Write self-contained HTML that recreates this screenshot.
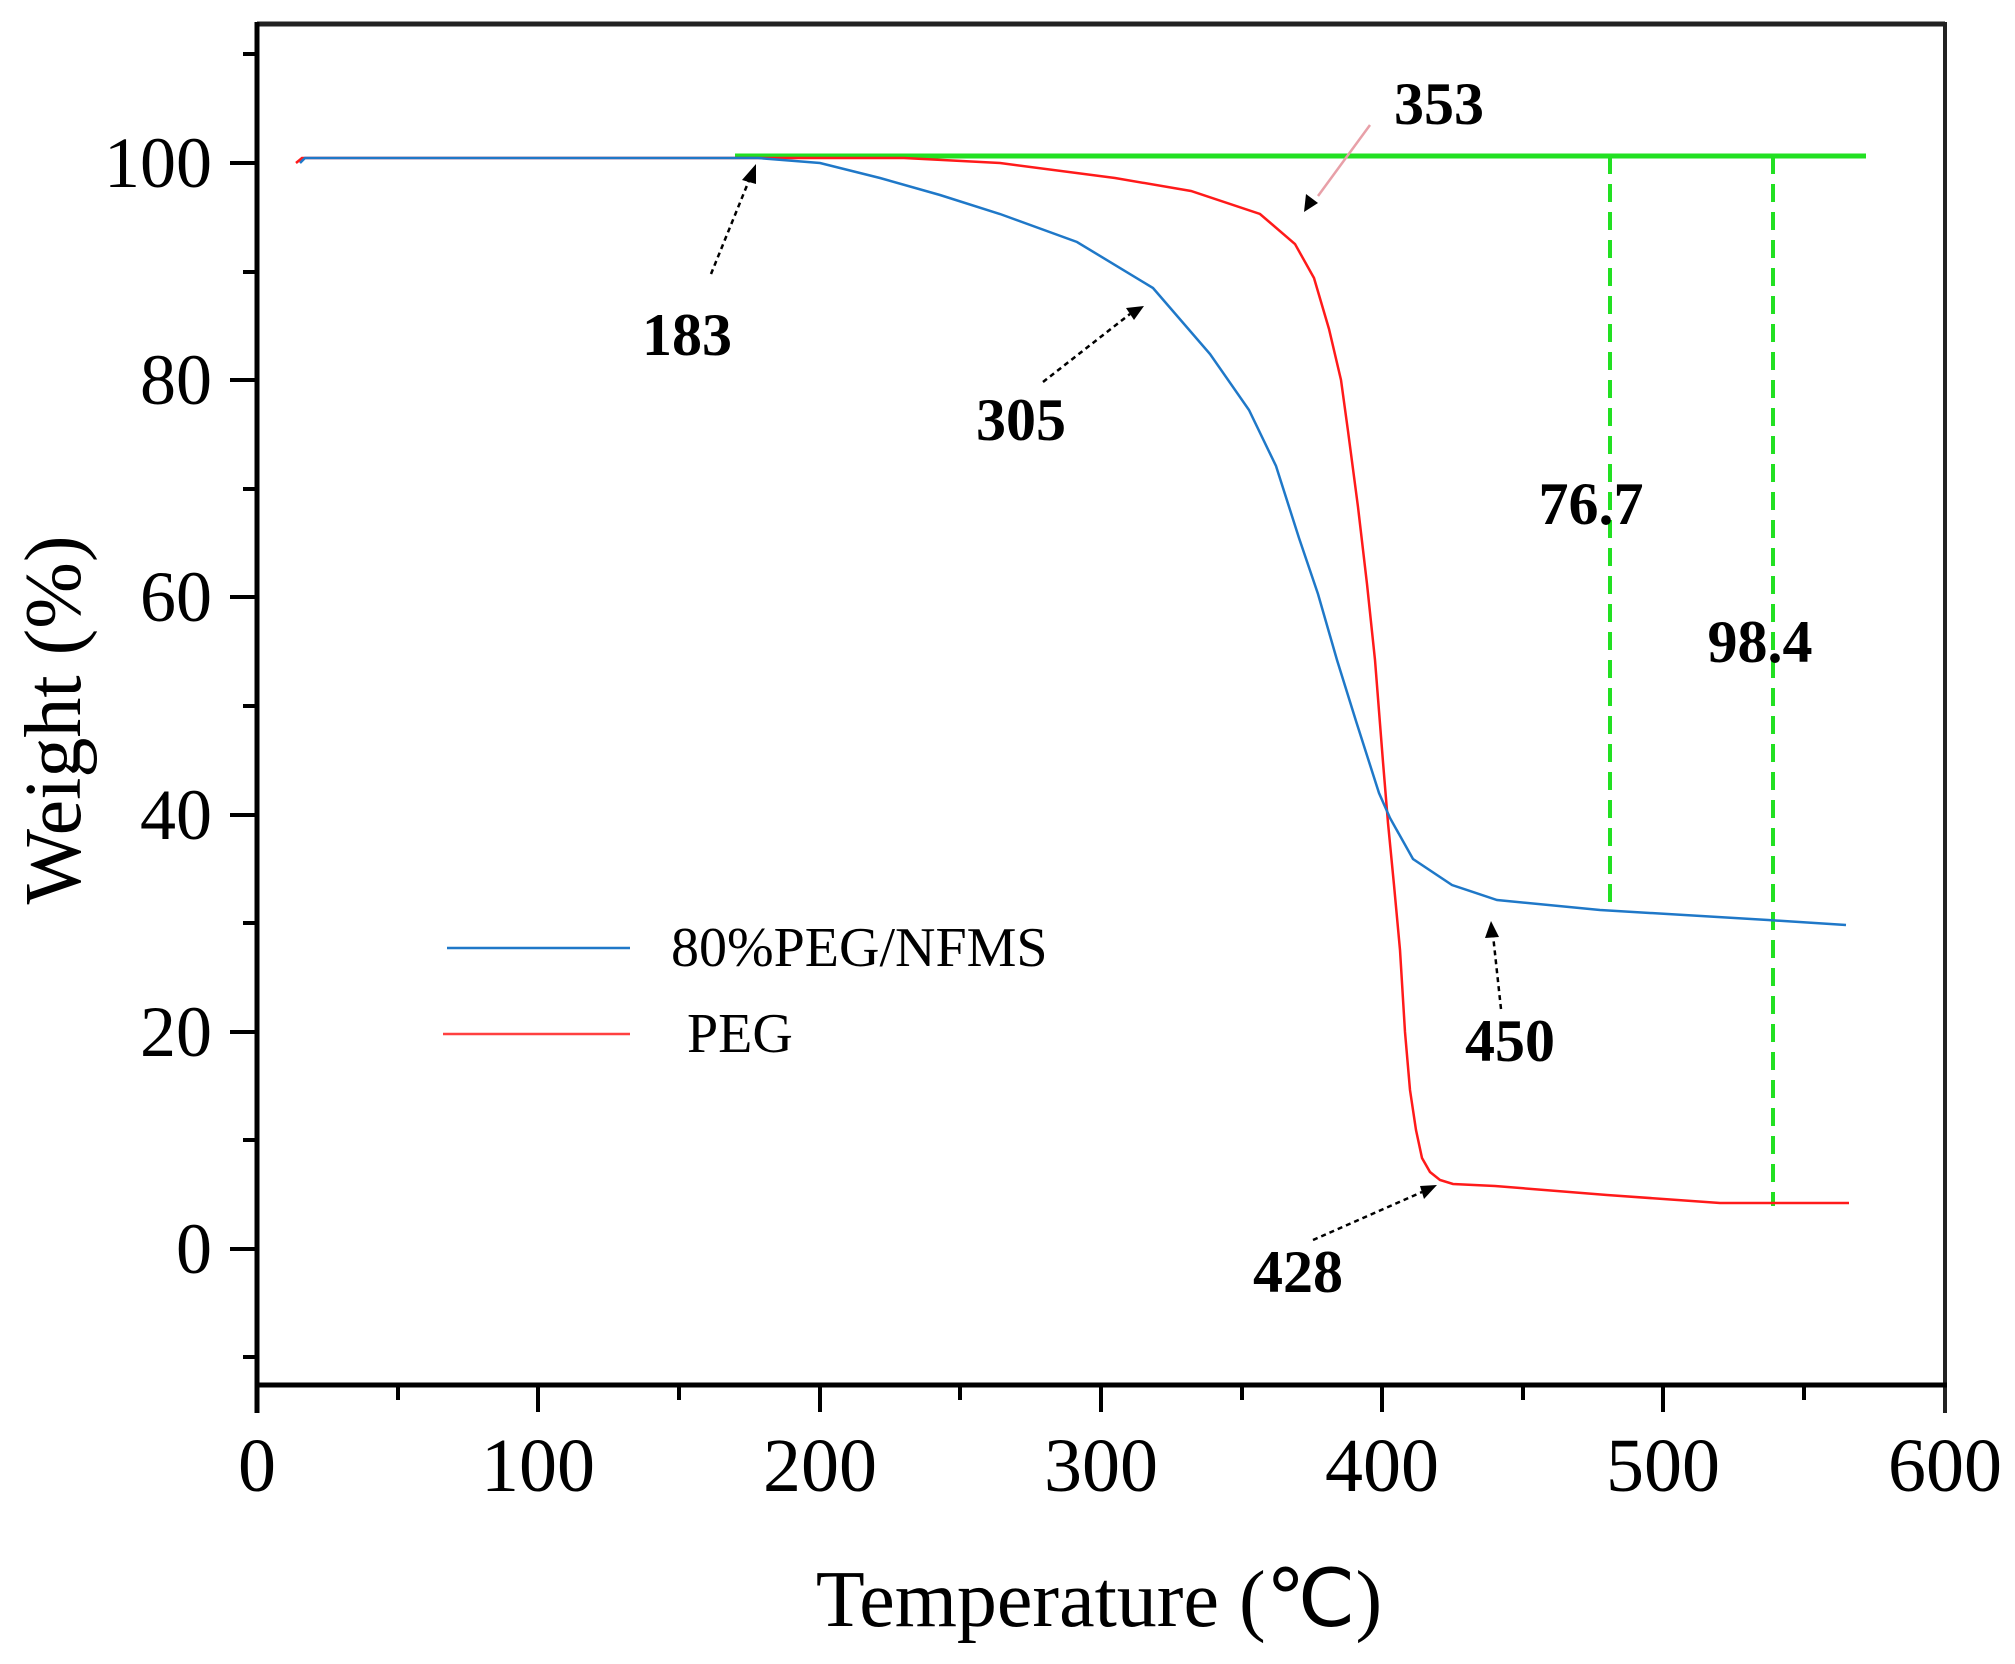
<!DOCTYPE html>
<html><head><meta charset="utf-8"><style>
html,body{margin:0;padding:0;background:#fff;}
svg{display:block;}
text{font-family:"Liberation Serif",serif;fill:#000;}
</style></head><body>
<svg width="2015" height="1664" viewBox="0 0 2015 1664" xmlns="http://www.w3.org/2000/svg">
<rect width="2015" height="1664" fill="#fff"/>
<line x1="257" y1="24" x2="1945" y2="24" stroke="#222" stroke-width="5"/>
<line x1="1945" y1="22" x2="1945" y2="1413" stroke="#222" stroke-width="4"/>
<line x1="257" y1="22" x2="257" y2="1413" stroke="#000" stroke-width="5"/>
<line x1="255" y1="1385" x2="1947" y2="1385" stroke="#000" stroke-width="5"/>
<g stroke="#000" stroke-width="4">
<line x1="230" y1="163" x2="257" y2="163"/><line x1="230" y1="380" x2="257" y2="380"/>
<line x1="230" y1="597" x2="257" y2="597"/><line x1="230" y1="815" x2="257" y2="815"/>
<line x1="230" y1="1032" x2="257" y2="1032"/><line x1="230" y1="1249" x2="257" y2="1249"/>
<line x1="243" y1="54" x2="257" y2="54"/><line x1="243" y1="272" x2="257" y2="272"/>
<line x1="243" y1="489" x2="257" y2="489"/><line x1="243" y1="706" x2="257" y2="706"/>
<line x1="243" y1="923" x2="257" y2="923"/><line x1="243" y1="1140" x2="257" y2="1140"/>
<line x1="243" y1="1357" x2="257" y2="1357"/>
</g>
<g stroke="#000" stroke-width="4">
<line x1="538" y1="1385" x2="538" y2="1412"/><line x1="820" y1="1385" x2="820" y2="1412"/>
<line x1="1101" y1="1385" x2="1101" y2="1412"/><line x1="1382" y1="1385" x2="1382" y2="1412"/>
<line x1="1663" y1="1385" x2="1663" y2="1412"/>
<line x1="398" y1="1385" x2="398" y2="1400"/><line x1="679" y1="1385" x2="679" y2="1400"/>
<line x1="960" y1="1385" x2="960" y2="1400"/><line x1="1242" y1="1385" x2="1242" y2="1400"/>
<line x1="1523" y1="1385" x2="1523" y2="1400"/><line x1="1804" y1="1385" x2="1804" y2="1400"/>
</g>
<g font-size="72" text-anchor="end">
<text x="212" y="187">100</text><text x="212" y="404">80</text><text x="212" y="621">60</text>
<text x="212" y="839">40</text><text x="212" y="1056">20</text><text x="212" y="1273">0</text>
</g>
<g font-size="76" text-anchor="middle">
<text x="257" y="1491">0</text><text x="538" y="1491">100</text><text x="820" y="1491">200</text>
<text x="1101" y="1491">300</text><text x="1382" y="1491">400</text><text x="1663" y="1491">500</text>
<text x="1945" y="1491">600</text>
</g>
<text x="1099" y="1626" font-size="80" text-anchor="middle">Temperature (℃)</text>
<text transform="translate(80,720) rotate(-90)" font-size="80" text-anchor="middle">Weight (%)</text>
<line x1="735" y1="156" x2="1866" y2="156" stroke="#22e022" stroke-width="5"/>
<line x1="1610" y1="156" x2="1610" y2="912" stroke="#22e022" stroke-width="4" stroke-dasharray="18,10"/>
<line x1="1773" y1="156" x2="1773" y2="1206" stroke="#22e022" stroke-width="4" stroke-dasharray="18,10"/>
<polyline fill="none" stroke="#ff1a1a" stroke-width="2.5" points="296,163 302,158 904,158 1000,163 1115,178 1191,191 1260,214 1295,244 1314,278 1329,329 1341,380 1348,431 1358,507 1367,584 1375,660 1383,762 1388,823 1394,885 1400,950 1405,1032 1410,1090 1416,1130 1422,1158 1430,1172 1440,1180 1453,1184 1495,1186 1607,1195 1720,1203 1849,1203"/>
<polyline fill="none" stroke="#1f78c8" stroke-width="2.5" points="300,163 305,158 758,158 820,163 880,178 940,195 1000,214 1077,242 1153,288 1210,354 1249,410 1276,466 1299,538 1318,594 1337,660 1356,721 1379,793 1390,818 1413,859 1452,885 1497,900 1600,910 1768,920 1846,925"/>
<g font-size="60" font-weight="bold" text-anchor="middle">
<text x="1439" y="124">353</text><text x="687" y="355">183</text><text x="1021" y="440">305</text>
<text x="1591" y="524">76.7</text><text x="1760" y="662">98.4</text><text x="1510" y="1061">450</text>
<text x="1298" y="1292">428</text>
</g>
<g stroke="#000" stroke-width="2.5" stroke-dasharray="5,4" fill="none">
<line x1="711" y1="274" x2="750" y2="178"/>
<line x1="1043" y1="382" x2="1130" y2="314"/>
<line x1="1501" y1="1009" x2="1493" y2="935"/>
<line x1="1313" y1="1240" x2="1422" y2="1192"/>
</g>
<line x1="1370" y1="125" x2="1318" y2="196" stroke="#e8a0a8" stroke-width="2.5"/>
<g fill="#000">
<polygon points="756,164 742,180 756,184"/>
<polygon points="1144,306 1126,308 1134,320"/>
<polygon points="1491,921 1485,938 1499,937"/>
<polygon points="1437,1185 1420,1186 1424,1199"/>
<polygon points="1304,212 1306,194 1318,203"/>
</g>
<line x1="447" y1="948" x2="630" y2="948" stroke="#1f78c8" stroke-width="2.5"/>
<text x="671" y="966" font-size="56">80%PEG/NFMS</text>
<line x1="443" y1="1034" x2="630" y2="1034" stroke="#ff4040" stroke-width="2.5"/>
<text x="687" y="1052" font-size="56">PEG</text>
</svg>
</body></html>
